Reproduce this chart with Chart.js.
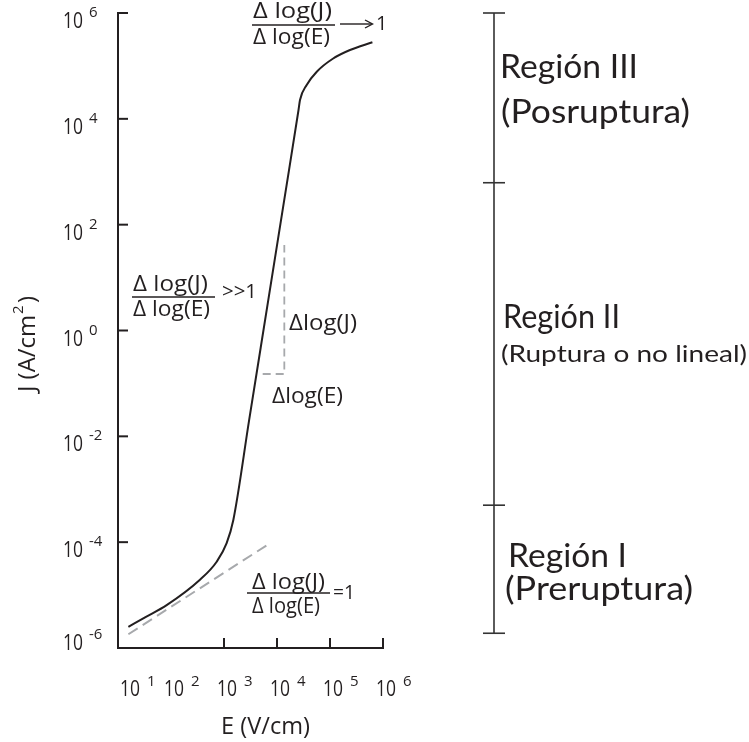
<!DOCTYPE html>
<html><head><meta charset="utf-8">
<script src="https://cdn.jsdelivr.net/npm/chart.js@4"></script>
<style>html,body{margin:0;padding:0;background:#fff}#wrap{width:749px;height:742px}</style>
</head><body>
<div id="wrap"><canvas id="c" width="749" height="742"></canvas></div>
<script>
// ---- data ----
const curveE = [15.7, 32.4, 82.8, 352, 728, 1122, 1500, 2985, 6855, 13680, 25470, 27160, 36310, 56230, 114800, 238200, 631000];
const curveJ = [2.51e-6, 3.80e-6, 6.46e-6, 1.95e-5, 4.27e-5, 9.55e-5, 2.63e-4, 2.04e-2, 3.78, 292, 14690, 22700, 43650, 77620, 138000, 199500, 279300];
const ohmicE = [15.7, 7380];
const ohmicJ = [1.82e-6, 9.55e-5];
const stepE = [5370, 13740, 13740];
const stepJ = [0.1507, 0.1507, 41.3];
const xTickValues = [1e1, 1e2, 1e3, 1e4, 1e5, 1e6];
const xTickExp = ['1', '2', '3', '4', '5', '6'];
const xTickMarks = [1e3, 1e4, 1e5, 1e6];
const yTickValues = [1e6, 1e4, 1e2, 1e0, 1e-2, 1e-4, 1e-6];
const yTickExp = ['6', '4', '2', '0', '-2', '-4', '-6'];
const yTickMarks = [1e6, 1e4, 1e2, 1e0, 1e-2, 1e-4];
const regionBounds = [1e6, 620, 5.0e-4, 1.9e-6];
const regionTitles = ['Región III', 'Región II', 'Región I'];
const regionSubtitles = ['(Posruptura)', '(Ruptura o no lineal)', '(Preruptura)'];

const INK = '#231f20';
const GRAY = '#a7a9ac';

function pts(xs, ys) { return xs.map((x, i) => ({x: x, y: ys[i]})); }

function T(ctx, s, x, y, size, w, opts) {
  opts = opts || {};
  const fam = opts.family || 'Open Sans';
  ctx.font = size + 'px "' + fam + '"';
  const m = ctx.measureText(s).width;
  const sx = w ? w / m : 1;
  ctx.save();
  ctx.translate(x, y);
  ctx.scale(sx, 1);
  ctx.textAlign = 'left';
  ctx.textBaseline = 'alphabetic';
  ctx.fillStyle = opts.color || INK;
  ctx.fillText(s, 0, 0);
  ctx.restore();
  return m * sx;
}
function L(ctx, x1, y1, x2, y2, w, c) {
  ctx.save(); ctx.beginPath(); ctx.moveTo(x1, y1); ctx.lineTo(x2, y2);
  ctx.lineWidth = w; ctx.strokeStyle = c || INK; ctx.stroke(); ctx.restore();
}

const decor = {
  id: 'decor',
  afterDraw(chart) {
    const ctx = chart.ctx;
    const xs = chart.scales.x, ys = chart.scales.y;
    const a = chart.chartArea;
    // tick marks (inside)
    yTickMarks.forEach(v => { const p = ys.getPixelForValue(v); L(ctx, a.left, p, a.left + 10, p, 2); });
    xTickMarks.forEach(v => { const p = xs.getPixelForValue(v); L(ctx, p, a.bottom, p, a.bottom - 10, 2); });
    // y tick labels
    yTickValues.forEach((v, i) => {
      const p = ys.getPixelForValue(v);
      const base = Math.min(p + 15, a.bottom + 2);
      T(ctx, '10', a.left - 55, base, 21, 20);
      T(ctx, yTickExp[i], a.left - 29, base - 11, 15, 0);
    });
    // x tick labels
    xTickValues.forEach((v, i) => {
      const p = xs.getPixelForValue(v);
      const left = Math.max(p - 7, a.left + 2);
      T(ctx, '10', left, 696, 21, 20);
      T(ctx, xTickExp[i], left + 27, 686, 15, 0);
    });
    // axis titles
    T(ctx, 'E (V/cm)', 221, 734, 24, 89);
    ctx.save(); ctx.translate(35, 392); ctx.rotate(-Math.PI / 2);
    T(ctx, 'J (A/cm', 0, 0, 24, 77);
    T(ctx, '2', 78, -12, 15, 0);
    T(ctx, ')', 89, 0, 24, 0);
    ctx.restore();
    // top fraction  (-> 1)
    T(ctx, 'Δ log(J)', 253, 18, 21, 79);
    L(ctx, 252, 25, 335, 25, 1.5);
    T(ctx, 'Δ log(E)', 253, 44, 21, 77);
    L(ctx, 340, 24, 372, 24, 1.4);
    ctx.save(); ctx.beginPath(); ctx.moveTo(365, 20); ctx.lineTo(372.5, 24); ctx.lineTo(365, 28);
    ctx.lineWidth = 1.4; ctx.strokeStyle = INK; ctx.stroke(); ctx.restore();
    T(ctx, '1', 376, 30, 20, 0);
    // middle fraction (>>1)
    T(ctx, 'Δ log(J)', 133, 291, 21, 75);
    L(ctx, 132, 297, 215, 297, 1.5);
    T(ctx, 'Δ log(E)', 133, 316, 21, 77);
    T(ctx, '>>1', 222, 298, 20, 35);
    // step labels
    T(ctx, 'Δlog(J)', 289, 330, 21, 68);
    T(ctx, 'Δlog(E)', 272, 403, 21, 71);
    // bottom fraction (=1)
    T(ctx, 'Δ log(J)', 252, 589, 21, 73);
    L(ctx, 247, 593, 330, 593, 1.5);
    T(ctx, 'Δ log(E)', 252, 613, 21, 68);
    T(ctx, '=1', 333, 599, 20, 22);
    // region bracket
    const bx = 494;
    const bp = regionBounds.map(v => ys.getPixelForValue(v));
    L(ctx, bx, bp[0], bx, bp[bp.length - 1], 1.6, '#333');
    bp.forEach(p => L(ctx, bx - 11, p, bx + 11, p, 1.6, '#333'));
    // region labels
    T(ctx, regionTitles[0], 500, 78, 32, 138, {family: 'Lato'});
    T(ctx, regionSubtitles[0], 501, 123, 32, 189, {family: 'Lato'});
    T(ctx, regionTitles[1], 503, 328, 32, 117, {family: 'Lato'});
    T(ctx, regionSubtitles[1], 501, 362, 24, 246, {family: 'Lato'});
    T(ctx, regionTitles[2], 508, 567, 32, 119, {family: 'Lato'});
    T(ctx, regionSubtitles[2], 505, 600, 32, 188, {family: 'Lato'});
  }
};

new Chart(document.getElementById('c'), {
  type: 'line',
  data: {
    datasets: [
      {data: pts(curveE, curveJ), borderColor: INK, borderWidth: 2, pointRadius: 0, cubicInterpolationMode: 'monotone', fill: false},
      {data: pts(ohmicE, ohmicJ), borderColor: GRAY, borderWidth: 2, borderDash: [11, 6], pointRadius: 0, fill: false},
      {data: pts(stepE, stepJ), borderColor: GRAY, borderWidth: 1.8, borderDash: [8, 5], pointRadius: 0, fill: false}
    ]
  },
  options: {
    responsive: false,
    animation: false,
    devicePixelRatio: 1,
    layout: {padding: {left: 118, top: 13, right: 366, bottom: 94}},
    plugins: {legend: {display: false}, tooltip: {enabled: false}},
    scales: {
      x: {type: 'logarithmic', min: 1e1, max: 1e6,
          ticks: {display: false}, grid: {display: true, drawOnChartArea: false, drawTicks: false},
          border: {display: true, color: INK, width: 2},
          afterFit: s => { s.height = 0; }},
      y: {type: 'logarithmic', min: 1e-6, max: 1e6,
          ticks: {display: false}, grid: {display: true, drawOnChartArea: false, drawTicks: false},
          border: {display: true, color: INK, width: 2},
          afterFit: s => { s.width = 0; }}
    }
  },
  plugins: [decor]
});
</script>
</body></html>
